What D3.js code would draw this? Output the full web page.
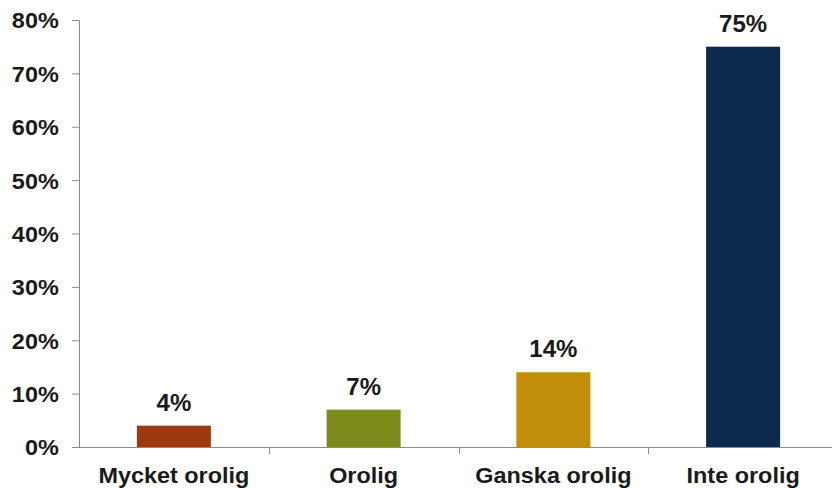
<!DOCTYPE html>
<html>
<head>
<meta charset="utf-8">
<script src="https://cdn.jsdelivr.net/npm/d3@7"></script>
<style>
  body { margin: 0; background: #fff; }
  svg text { font-family: "Liberation Sans", Arial, sans-serif; font-weight: bold; fill: #1a1a1a; }
</style>
</head>
<body>
<div id="graph"></div>
<script>
// chart data
var categories = ["Mycket orolig", "Orolig", "Ganska orolig", "Inte orolig"];
var values = [4, 7, 14, 75];
var barColors = ["#9e380f", "#7d8b1d", "#c18d0b", "#0b2a4c"];
var yTicks = [0, 10, 20, 30, 40, 50, 60, 70, 80];

var width = 832, height = 488;
var margin = { top: 20, right: -6, bottom: 41, left: 79 };
var stretch = 1.065; // text in the original is a bit wide

var svg = d3.select("#graph").append("svg")
    .attr("width", width)
    .attr("height", height);

var x = d3.scaleBand()
    .domain(categories)
    .range([margin.left, width - margin.right])
    .paddingInner(0.61)
    .paddingOuter(0.305);

var y = d3.scaleLinear()
    .domain([0, 80])
    .range([height - margin.bottom, margin.top]);

// y axis
var yAxis = svg.append("g")
    .attr("transform", "translate(" + margin.left + ",0)")
    .call(d3.axisLeft(y).tickValues(yTicks).tickSize(7).tickPadding(12)
        .tickFormat(function(d) { return d + "%"; }));
yAxis.select(".domain").attr("stroke", "#8c8c8c");
yAxis.selectAll(".tick line").attr("stroke", "#8c8c8c");
yAxis.selectAll("text")
    .style("font-size", "22px")
    .attr("dy", "0.36em")
    .attr("fill", "#1a1a1a")
    .attr("transform", "scale(" + stretch + ",1)");

// x axis: ticks between categories
var step = x.step();
var xAxis = svg.append("g");
xAxis.append("line")
    .attr("x1", margin.left)
    .attr("x2", width)
    .attr("y1", y(0) + 0.5)
    .attr("y2", y(0) + 0.5)
    .attr("stroke", "#8c8c8c");
categories.forEach(function(c) {
    var xb = x(c) - step * x.paddingInner() / 2 + step;
    xAxis.append("line")
        .attr("x1", Math.round(xb) + 0.5)
        .attr("x2", Math.round(xb) + 0.5)
        .attr("y1", y(0))
        .attr("y2", y(0) + 7)
        .attr("stroke", "#8c8c8c");
});
xAxis.selectAll("text.cat")
    .data(categories)
    .enter().append("text")
    .attr("class", "cat")
    .attr("transform", function(d) {
        return "translate(" + (x(d) + x.bandwidth() / 2) + "," + (height - 5) + ") scale(" + stretch + ",1)";
    })
    .attr("text-anchor", "middle")
    .style("font-size", "22px")
    .text(function(d) { return d; });

// bars
svg.selectAll("rect.bar")
    .data(values)
    .enter().append("rect")
    .attr("class", "bar")
    .attr("x", function(d, i) { return x(categories[i]); })
    .attr("width", x.bandwidth())
    .attr("y", function(d) { return y(d); })
    .attr("height", function(d) { return y(0) - y(d); })
    .attr("fill", function(d, i) { return barColors[i]; });

// value labels
svg.selectAll("text.val")
    .data(values)
    .enter().append("text")
    .attr("class", "val")
    .attr("x", function(d, i) { return x(categories[i]) + x.bandwidth() / 2; })
    .attr("y", function(d) { return y(d) - 15; })
    .attr("text-anchor", "middle")
    .style("font-size", "24px")
    .text(function(d) { return d + "%"; });
</script>
</body>
</html>
